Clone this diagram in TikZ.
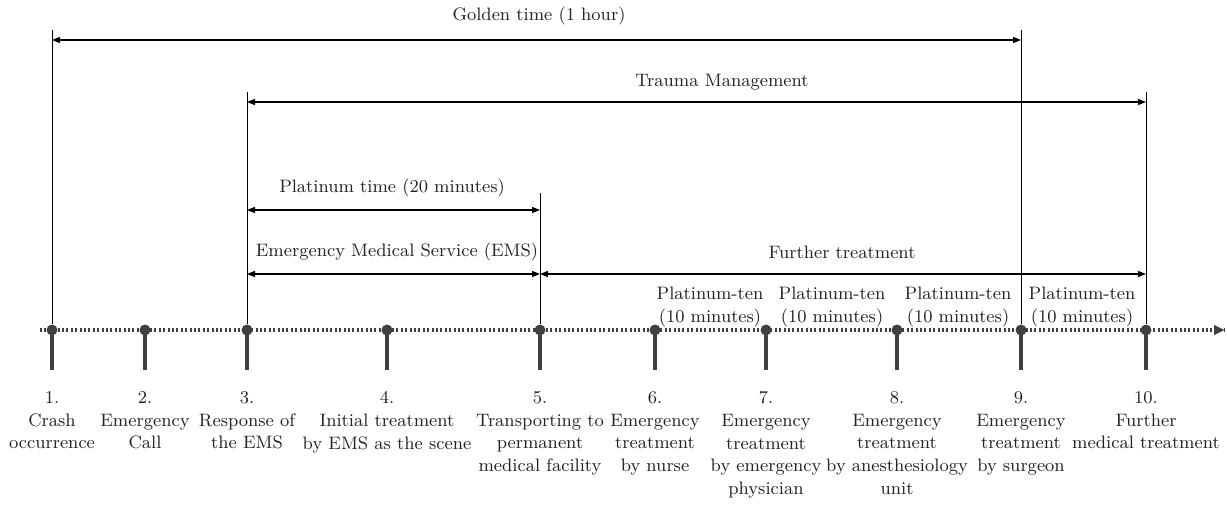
\documentclass[tikz,border=0pt]{standalone}
\usepackage{xcolor}
\usetikzlibrary{arrows.meta,positioning,calc}
\definecolor{tlgray}{HTML}{404040}
\definecolor{txt}{HTML}{222222}

\begin{document}
\begin{tikzpicture}[x=0.5pt,y=-0.5pt,>={Triangle[length=4pt,width=3pt]},
  dot/.style={circle,fill=tlgray,inner sep=0pt,minimum size=5.5pt},
  stem/.style={line width=2pt,tlgray},
  axis/.style={line width=1.6pt,tlgray,dash pattern=on 1pt off 1.2pt},
  bar/.style={line width=0.5pt},
  span/.style={<->,line width=0.6pt},
  lab/.style={align=center,inner sep=0pt,text=txt,font=\fontsize{9}{11.4}\selectfont}]
\useasboundingbox (0,0) rectangle (1227,504);
% timeline
\coordinate (axs) at (40,330); \coordinate (axe) at (1224,330);
\draw[axis] (axs) -- (axe);
\draw[tlgray,-{Triangle[length=5pt,width=5pt]},line width=0.1pt] ($(axe)+(-8,0)$) -- (axe);
\foreach \i/\x/\t in {1/52/{Crash\\occurrence},2/145/{Emergency\\Call},3/247/{Response of\\the EMS},
  4/387/{Initial treatment\\by EMS as the scene},5/540/{Transporting to\\permanent\\medical facility},
  6/655/{Emergency\\treatment\\by nurse},7/766/{Emergency\\treatment\\by emergency\\physician},
  8/897/{Emergency\\treatment\\by anesthesiology\\unit},9/1021/{Emergency\\treatment\\by surgeon},
  10/1146/{Further\\medical treatment}}{
  \node[dot] (d\i) at (\x,330) {};
  \coordinate (s\i) at (\x,370);
  \draw[stem] (d\i.center) -- (s\i);
  \node[lab,anchor=north] (l\i) at (\x,391) {\i.\\\t};
}
% spans
\coordinate (g1) at (52,30); \coordinate (g2) at (1021,30);
\coordinate (m1) at (247,92); \coordinate (m2) at (1146,92);
\coordinate (p2) at (540,193);
\draw[bar] (g1) -- (d1.north); \draw[bar] (g2) -- (d9.north);
\draw[bar] (m1) -- (d3.north); \draw[bar] (m2) -- (d10.north);
\draw[bar] (p2) -- (d5.north);
\node[lab] (golden) at (539,16) {Golden time (1 hour)};
\draw[span] (52,40) -- (1021,40);
\node[lab] (trauma) at (722,82) {Trauma Management};
\draw[span] (247,102) -- (1146,102);
\node[lab] (plat) at (392,188) {Platinum time (20 minutes)};
\draw[span] (247,210) -- (540,210);
\node[lab] (ems) at (397,252) {Emergency Medical Service (EMS)};
\draw[span] (247,274) -- (540,274);
\node[lab] (further) at (842,252) {Further treatment};
\draw[span] (540,274) -- (1146,274);
\foreach \n/\x in {a/710,b/832,c/958,d/1082}
  \node[lab] (pt\n) at (\x,307) {Platinum-ten\\(10 minutes)};
\end{tikzpicture}
\end{document}
